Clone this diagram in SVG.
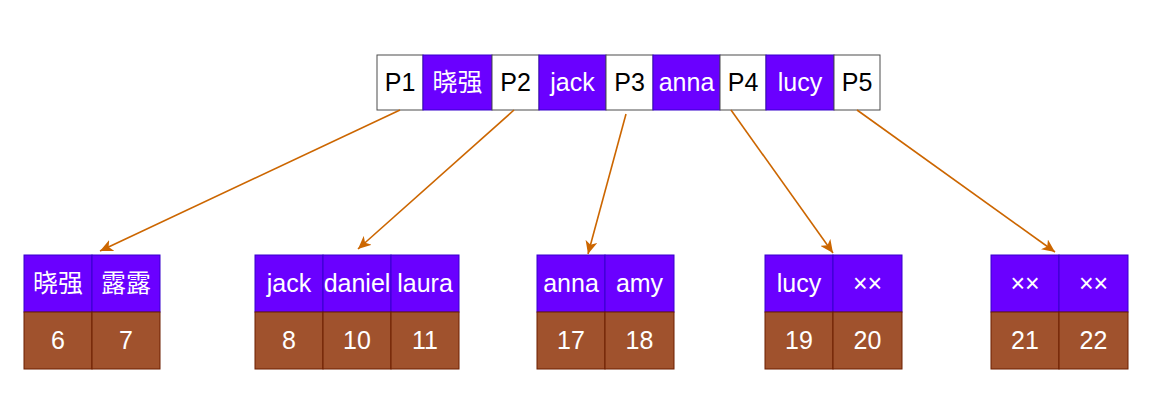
<svg xmlns="http://www.w3.org/2000/svg" width="1169" height="401" viewBox="0 0 1169 401">
  <defs>
    <style>
      .t { font-family: "Liberation Sans", Arial, "Noto Sans CJK SC", sans-serif; font-size: 25px; text-anchor: middle; }
      .pw { fill: #ffffff; stroke: #4d4d4d; stroke-width: 1; }
      .pk { fill: #6a00ff; stroke: #3700cc; stroke-width: 1; }
      .br { fill: #a0522d; stroke: #6d1f00; stroke-width: 1; }
      .dark { fill: #000000; }
      .light { fill: #ffffff; }
      .edge { fill: none; stroke: #cc6600; stroke-width: 1.6; marker-end: url(#arr); }
    </style>
    <marker id="arr" markerUnits="userSpaceOnUse" markerWidth="14" markerHeight="12" viewBox="0 0 14 12" refX="13" refY="6" orient="auto">
      <path d="M0,0 L13,6 L0,12 L3.5,6 z" fill="#cc6600"/>
    </marker>
  </defs>
  <rect width="1169" height="401" fill="#ffffff"/>

  <g id="root">
    <rect class="pw" x="377" y="55" width="46" height="55"/>
    <rect class="pk" x="423" y="55" width="69" height="55"/>
    <rect class="pw" x="492" y="55" width="47" height="55"/>
    <rect class="pk" x="539" y="55" width="67" height="55"/>
    <rect class="pw" x="606" y="55" width="47" height="55"/>
    <rect class="pk" x="653" y="55" width="67" height="55"/>
    <rect class="pw" x="720" y="55" width="46" height="55"/>
    <rect class="pk" x="766" y="55" width="68" height="55"/>
    <rect class="pw" x="834" y="55" width="46" height="55"/>
    <text class="t dark" x="400" y="91">P1</text>
    <text class="t light" x="457.5" y="91">晓强</text>
    <text class="t dark" x="515.5" y="91">P2</text>
    <text class="t light" x="572.5" y="91">jack</text>
    <text class="t dark" x="629.5" y="91">P3</text>
    <text class="t light" x="686.5" y="91">anna</text>
    <text class="t dark" x="743" y="91">P4</text>
    <text class="t light" x="800" y="91">lucy</text>
    <text class="t dark" x="857" y="91">P5</text>
  </g>

  <g id="leaf1">
    <rect class="pk" x="24" y="255" width="68" height="57"/>
    <rect class="pk" x="92" y="255" width="68" height="57"/>
    <rect class="br" x="24" y="312" width="68" height="57"/>
    <rect class="br" x="92" y="312" width="68" height="57"/>
    <text class="t light" x="58" y="292">晓强</text>
    <text class="t light" x="126" y="292">露露</text>
    <text class="t light" x="58" y="349">6</text>
    <text class="t light" x="126" y="349">7</text>
  </g>

  <g id="leaf2">
    <rect class="pk" x="255" y="255" width="68" height="57"/>
    <rect class="pk" x="323" y="255" width="68" height="57"/>
    <rect class="pk" x="391" y="255" width="68" height="57"/>
    <rect class="br" x="255" y="312" width="68" height="57"/>
    <rect class="br" x="323" y="312" width="68" height="57"/>
    <rect class="br" x="391" y="312" width="68" height="57"/>
    <text class="t light" x="289" y="292">jack</text>
    <text class="t light" x="357" y="292">daniel</text>
    <text class="t light" x="425" y="292">laura</text>
    <text class="t light" x="289" y="349">8</text>
    <text class="t light" x="357" y="349">10</text>
    <text class="t light" x="425" y="349">11</text>
  </g>

  <g id="leaf3">
    <rect class="pk" x="537" y="255" width="68" height="57"/>
    <rect class="pk" x="605" y="255" width="69" height="57"/>
    <rect class="br" x="537" y="312" width="68" height="57"/>
    <rect class="br" x="605" y="312" width="69" height="57"/>
    <text class="t light" x="571" y="292">anna</text>
    <text class="t light" x="639.5" y="292">amy</text>
    <text class="t light" x="571" y="349">17</text>
    <text class="t light" x="639.5" y="349">18</text>
  </g>

  <g id="leaf4">
    <rect class="pk" x="765" y="255" width="68" height="57"/>
    <rect class="pk" x="833" y="255" width="69" height="57"/>
    <rect class="br" x="765" y="312" width="68" height="57"/>
    <rect class="br" x="833" y="312" width="69" height="57"/>
    <text class="t light" x="799" y="292">lucy</text>
    <text class="t light" x="867.5" y="292">××</text>
    <text class="t light" x="799" y="349">19</text>
    <text class="t light" x="867.5" y="349">20</text>
  </g>

  <g id="leaf5">
    <rect class="pk" x="991" y="255" width="68" height="57"/>
    <rect class="pk" x="1059" y="255" width="69" height="57"/>
    <rect class="br" x="991" y="312" width="68" height="57"/>
    <rect class="br" x="1059" y="312" width="69" height="57"/>
    <text class="t light" x="1025" y="292">××</text>
    <text class="t light" x="1093.5" y="292">××</text>
    <text class="t light" x="1025" y="349">21</text>
    <text class="t light" x="1093.5" y="349">22</text>
  </g>

  <g id="connectors">
    <line class="edge" x1="400" y1="110" x2="100" y2="251"/>
    <line class="edge" x1="514" y1="110" x2="358" y2="249"/>
    <line class="edge" x1="626" y1="114" x2="588" y2="254"/>
    <line class="edge" x1="731" y1="110" x2="833" y2="253"/>
    <line class="edge" x1="857" y1="110" x2="1055" y2="252"/>
  </g>
</svg>
